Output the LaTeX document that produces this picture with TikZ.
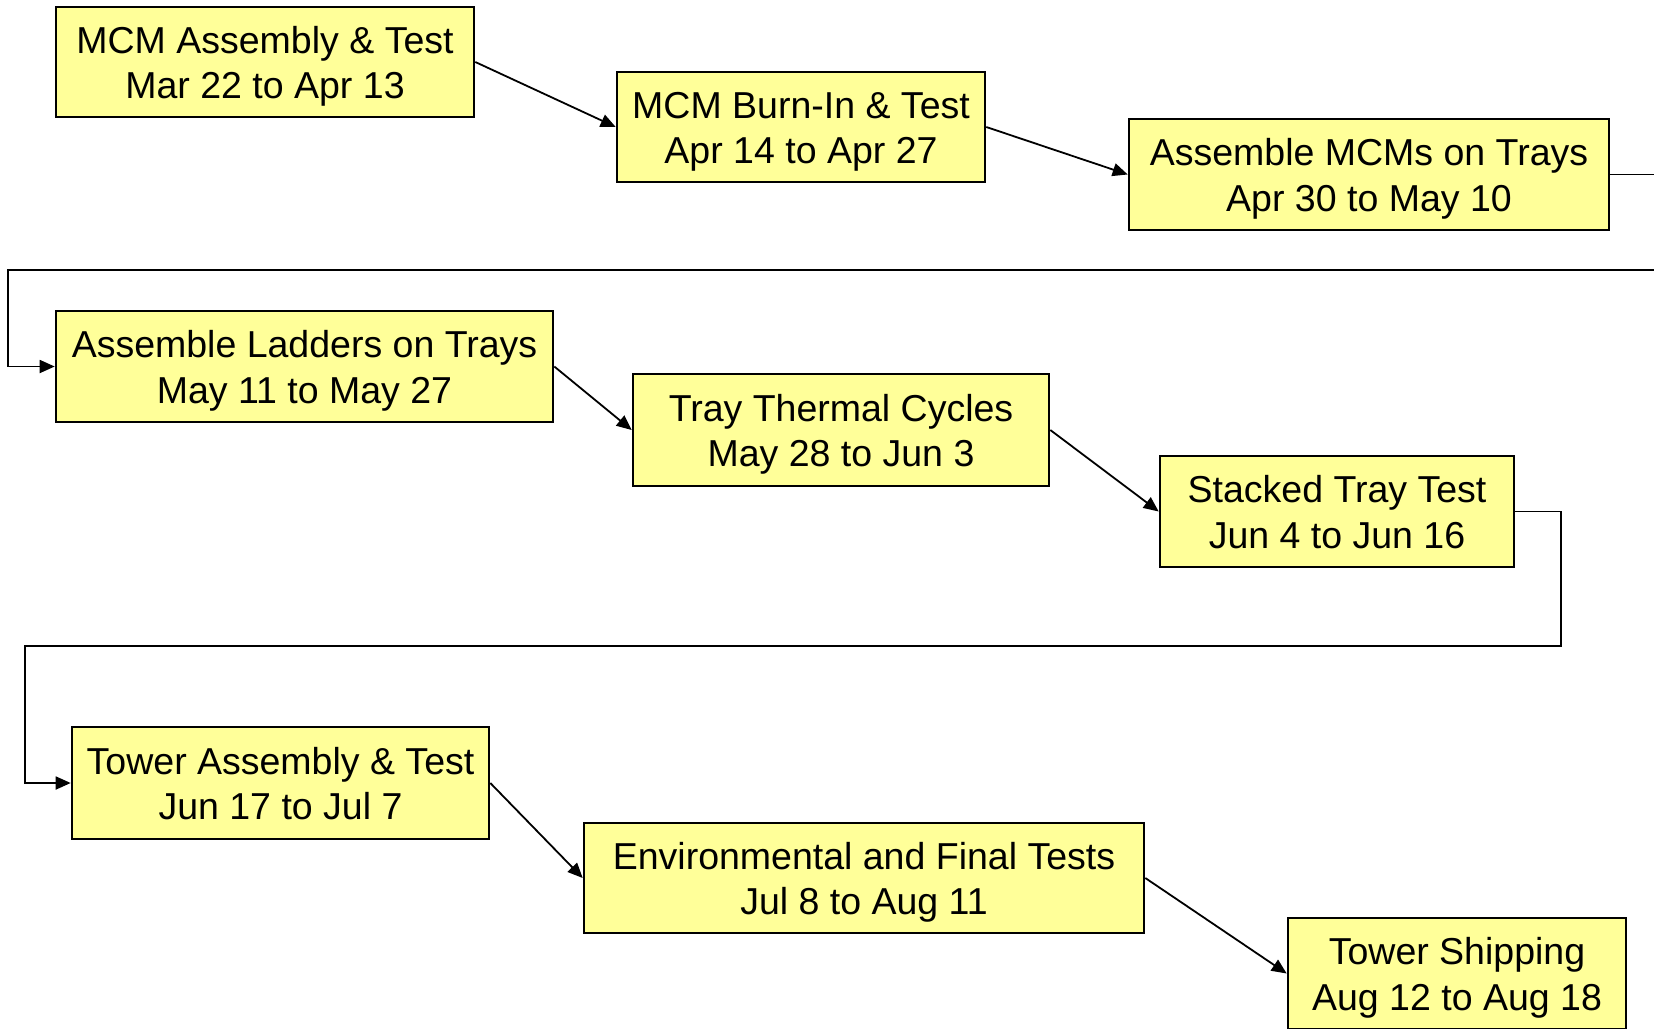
\documentclass[tikz,border=0pt]{standalone}
\usepackage{fontspec}
\setmainfont{Liberation Sans}
\usetikzlibrary{arrows.meta}
\definecolor{boxfill}{HTML}{FFFF99}
\newcommand{\topstrut}{\rule{0pt}{37.5pt}}
\newcommand{\botstrut}{\rule[-10pt]{0pt}{10pt}}
\begin{document}
\begin{tikzpicture}[x=1pt,y=-1pt,
  task/.style={draw=black,line width=2.6pt,fill=boxfill,inner sep=0pt,align=center,
    font=\fontsize{37.5}{45.5}\selectfont},
  link/.style={line width=1.8pt,-{Triangle[length=15pt,width=13pt]}}]
\useasboundingbox[fill=white] (0,0) rectangle (1654,1028);
\node[task,minimum width=418pt,minimum height=110pt] (t1) at (265,62) {\topstrut MCM Assembly \& Test\\Mar 22 to Apr 13\botstrut};
\node[task,minimum width=368pt,minimum height=110pt] (t2) at (801,127) {\topstrut MCM Burn-In \& Test\\Apr 14 to Apr 27\botstrut};
\node[task,minimum width=480pt,minimum height=111pt] (t3) at (1369,174.5) {\topstrut Assemble MCMs on Trays\\Apr 30 to May 10\botstrut};
\node[task,minimum width=497pt,minimum height=111pt] (t4) at (304.5,366.5) {\topstrut Assemble Ladders on Trays\\May 11 to May 27\botstrut};
\node[task,minimum width=416pt,minimum height=112pt] (t5) at (841,430) {\topstrut Tray Thermal Cycles\\May 28 to Jun 3\botstrut};
\node[task,minimum width=354pt,minimum height=111pt] (t6) at (1337,511.5) {\topstrut Stacked Tray Test\\Jun 4 to Jun 16\botstrut};
\node[task,minimum width=417pt,minimum height=112pt] (t7) at (280.5,783) {\topstrut Tower Assembly \& Test\\Jun 17 to Jul 7\botstrut};
\node[task,minimum width=560pt,minimum height=110pt] (t8) at (864,878) {\topstrut Environmental and Final Tests\\Jul 8 to Aug 11\botstrut};
\node[task,minimum width=338pt,minimum height=111pt] (t9) at (1457,973.5) {\topstrut Tower Shipping\\Aug 12 to Aug 18\botstrut};
\draw[link] (t1.east) -- (t2.west);
\draw[link] (t2.east) -- (t3.west);
\draw[link] (t3.east) -- (1700,174.5) -- (1700,270) -- (8,270) |- (t4.west);
\draw[link] (t4.east) -- (t5.west);
\draw[link] (t5.east) -- (t6.west);
\draw[link] (t6.east) -- (1561,511.5) -- (1561,646) -- (25,646) |- (t7.west);
\draw[link] (t7.east) -- (t8.west);
\draw[link] (t8.east) -- (t9.west);
\end{tikzpicture}
\end{document}
